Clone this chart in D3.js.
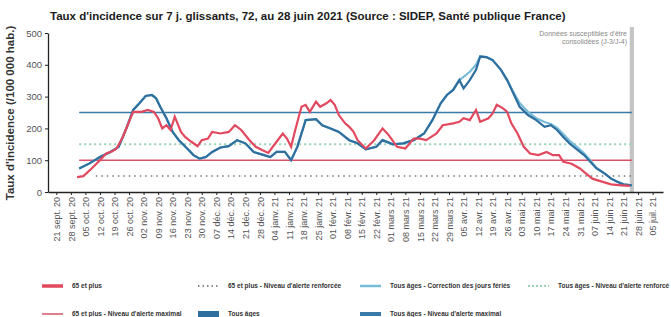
<!DOCTYPE html>
<meta charset="utf-8">
<body style="margin:0;background:#fff">
    <div id="chart"></div>
</body>
<script src="https://cdn.jsdelivr.net/npm/d3@7"></script>
<script>

    // séries (taux pour 100 000 hab.)
    var tousDates = ["2020-10-02","2020-10-07","2020-10-12","2020-10-17","2020-10-21","2020-10-23","2020-10-25","2020-10-28","2020-10-31",
        "2020-11-03","2020-11-06","2020-11-08","2020-11-10","2020-11-13","2020-11-16","2020-11-19","2020-11-23","2020-11-26","2020-11-29",
        "2020-12-02","2020-12-05","2020-12-09","2020-12-13","2020-12-17","2020-12-21","2020-12-25","2020-12-30",
        "2021-01-02","2021-01-05","2021-01-09","2021-01-12","2021-01-15","2021-01-18","2021-01-19","2021-01-24","2021-01-27","2021-01-31",
        "2021-02-04","2021-02-09","2021-02-13","2021-02-17","2021-02-22","2021-02-25",
        "2021-03-02","2021-03-07","2021-03-12","2021-03-17","2021-03-21","2021-03-25","2021-03-28","2021-03-31",
        "2021-04-03","2021-04-05","2021-04-08","2021-04-11","2021-04-13","2021-04-16","2021-04-19","2021-04-23","2021-04-26","2021-04-29",
        "2021-05-02","2021-05-06","2021-05-10","2021-05-14","2021-05-17","2021-05-20","2021-05-23","2021-05-26","2021-05-30",
        "2021-06-02","2021-06-05","2021-06-08","2021-06-12","2021-06-15","2021-06-18","2021-06-21","2021-06-25"];
    var tousAges = [74,90,110,126,142,173,205,258,279,
        302,305,295,268,232,189,163,137,116,105,
        110,126,140,144,163,153,126,116,
        110,126,126,100,142,205,226,229,210,200,
        189,163,153,134,142,163,
        150,153,163,184,226,279,305,321,
        352,326,352,384,426,424,415,384,352,310,
        268,242,226,205,210,195,173,153,132,
        116,95,74,58,42,32,24,21];
    var tousAgesCorrige = [74,90,110,126,142,173,205,258,279,
        302,305,295,268,232,189,163,137,116,105,
        110,126,140,144,163,153,126,116,
        110,126,126,100,142,205,226,229,210,200,
        189,163,153,134,142,163,
        150,153,163,184,226,279,305,321,
        352,362,378,400,426,424,415,384,352,314,
        280,252,232,220,214,202,182,162,140,
        122,100,76,58,42,32,24,21];

    var plus65Dates = ["2020-10-01","2020-10-04","2020-10-08","2020-10-12","2020-10-15","2020-10-18","2020-10-20","2020-10-23","2020-10-26","2020-10-28",
        "2020-11-01","2020-11-04","2020-11-07","2020-11-09","2020-11-11","2020-11-13","2020-11-15","2020-11-17","2020-11-20","2020-11-22","2020-11-25","2020-11-28","2020-11-30",
        "2020-12-03","2020-12-05","2020-12-09","2020-12-13","2020-12-16","2020-12-19","2020-12-23","2020-12-26","2020-12-29",
        "2021-01-01","2021-01-05","2021-01-08","2021-01-10","2021-01-12","2021-01-14","2021-01-17","2021-01-19","2021-01-21","2021-01-24","2021-01-26","2021-01-29","2021-01-31",
        "2021-02-02","2021-02-04","2021-02-07","2021-02-09","2021-02-11","2021-02-13","2021-02-17","2021-02-21","2021-02-25","2021-02-28",
        "2021-03-04","2021-03-08","2021-03-12","2021-03-15","2021-03-18","2021-03-23","2021-03-26","2021-03-31",
        "2021-04-03","2021-04-05","2021-04-08","2021-04-11","2021-04-13","2021-04-17","2021-04-19","2021-04-21","2021-04-24","2021-04-26","2021-04-28",
        "2021-05-01","2021-05-04","2021-05-07","2021-05-11","2021-05-15","2021-05-18","2021-05-21","2021-05-23","2021-05-27","2021-05-31",
        "2021-06-03","2021-06-06","2021-06-11","2021-06-15","2021-06-20","2021-06-24"];
    var plus65 = [47,50,74,100,121,128,137,173,221,252,
        252,258,252,232,200,210,195,237,189,173,158,144,163,
        168,189,184,189,210,195,163,142,132,
        123,158,184,168,142,195,268,274,252,284,268,279,289,
        274,242,216,205,190,163,137,163,200,179,
        142,137,168,168,163,184,210,216,
        221,232,226,258,221,232,247,274,263,252,216,
        184,142,121,116,126,116,116,95,89,74,
        58,42,32,24,21,19];

    // niveaux d'alerte
    var alerteMaxTous = 250;
    var alerteRenfTous = 150;
    var alerteMax65 = 100;
    var alerteRenf65 = 50;

    var yTicks = [0, 100, 200, 300, 400, 500];
    var xTickLabels = ["21 sept. 20","28 sept. 20","05 oct. 20","12 oct. 20","19 oct. 20","26 oct. 20","02 nov. 20","09 nov. 20",
        "16 nov. 20","23 nov. 20","30 nov. 20","07 déc. 20","14 déc. 20","21 déc. 20","28 déc. 20","04 janv. 21","11 janv. 21",
        "18 janv. 21","25 janv. 21","01 févr. 21","08 févr. 21","15 févr. 21","22 févr. 21","01 mars 21","08 mars 21","15 mars 21",
        "22 mars 21","29 mars 21","05 avr. 21","12 avr. 21","19 avr. 21","26 avr. 21","03 mai 21","10 mai 21","17 mai 21",
        "24 mai 21","31 mai 21","07 juin 21","14 juin 21","21 juin 21","28 juin 21","05 juil. 21"];

    var legendLabels = ["65 et plus", "65 et plus - Niveau d'alerte renforcée", "Tous âges - Correction des jours fériés",
        "Tous âges - Niveau d'alerte renforcé", "65 et plus - Niveau d'alerte maximal", "Tous âges", "Tous âges - Niveau d'alerte maximal"];

    var titre = "Taux d'incidence sur 7 j. glissants, 72, au 28 juin 2021 (Source : SIDEP, Santé publique France)";

    var width = 671, height = 317;
    var parse = d3.timeParse("%Y-%m-%d");

    var svg = d3.select("#chart").append("svg")
        .attr("width", width)
        .attr("height", height)
        .style("font-family", "'Liberation Sans', Arial, sans-serif");

    var x = d3.scaleTime()
        .domain([new Date(2020, 8, 17), new Date(2021, 6, 10)])
        .range([48, 663]);
    var y = d3.scaleLinear().domain([0, 500]).range([192, 33]);

    var red = "#e2495f", blue = "#2f6f9f", lightBlue = "#79bcd8", green = "#9bd3b4";

    // titre
    svg.append("text")
        .attr("x", 50).attr("y", 20)
        .attr("font-size", 11.5).attr("font-weight", "bold")
        .attr("fill", "#1b1b1b")
        .text(titre);

    svg.append("text")
        .attr("transform", "translate(14,113) rotate(-90)")
        .attr("text-anchor", "middle")
        .attr("font-size", 11.5).attr("font-weight", "bold")
        .attr("fill", "#333")
        .text("Taux d'incidence (/100 000 hab.)");

    // zone de consolidation
    svg.append("rect")
        .attr("x", x(parse("2021-06-24")))
        .attr("y", 27)
        .attr("width", x(parse("2021-06-26")) - x(parse("2021-06-24")))
        .attr("height", 165)
        .attr("fill", "#c4c4c4");

    svg.append("text")
        .attr("x", 627).attr("y", 36)
        .attr("text-anchor", "end")
        .attr("font-size", 7).attr("fill", "#888")
        .selectAll("tspan")
        .data(["Données susceptibles d'être", "consolidées (J-3/J-4)"])
        .enter().append("tspan")
            .attr("x", 627)
            .attr("dy", function(d, i) { return i ? 8 : 0; })
            .text(function(d) { return d; });

    // axes
    var tickDates = d3.timeMonday.range(new Date(2020, 8, 21), new Date(2021, 6, 6));
    var xAxis = svg.append("g")
        .attr("transform", "translate(0,192)")
        .call(d3.axisBottom(x).tickValues(tickDates).tickSize(3).tickSizeOuter(0)
            .tickFormat(function(d, i) { return xTickLabels[i]; }));
    xAxis.selectAll("text")
        .attr("transform", "rotate(-90)")
        .attr("text-anchor", "end")
        .attr("x", -5).attr("y", 0).attr("dy", "0.35em")
        .attr("font-size", 9).attr("fill", "#555");
    xAxis.select(".domain").attr("stroke", "#222").attr("stroke-width", 1.3);
    xAxis.selectAll(".tick line").attr("stroke", "#222");

    var yAxis = svg.append("g")
        .attr("transform", "translate(48,0)")
        .call(d3.axisLeft(y).tickValues(yTicks).tickSize(3).tickSizeOuter(0));
    yAxis.selectAll("text").attr("font-size", 9.5).attr("fill", "#555").attr("x", -6);
    yAxis.select(".domain").attr("stroke", "#222").attr("stroke-width", 1.3);
    yAxis.selectAll(".tick line").attr("stroke", "#222");

    // niveaux d'alerte
    var debut = parse("2020-10-02"), fin = parse("2021-06-25");
    function niveau(v, d0, color, w, dash) {
        svg.append("line")
            .attr("x1", x(d0)).attr("x2", x(fin))
            .attr("y1", y(v)).attr("y2", y(v))
            .attr("stroke", color).attr("stroke-width", w)
            .attr("stroke-dasharray", dash);
    }
    niveau(alerteRenfTous, debut, green, 2, "2,3");
    niveau(alerteRenf65, parse("2020-10-10"), "#777", 1.5, "1.5,4");
    niveau(alerteMaxTous, debut, "#3a7aa8", 1.6, null);
    niveau(alerteMax65, debut, "#d9506a", 1.6, null);

    // courbes
    var line = d3.line()
        .x(function(d) { return x(d.date); })
        .y(function(d) { return y(d.value); });

    function serie(dates, values) {
        return dates.map(function(d, i) { return { date: parse(d), value: values[i] }; });
    }

    svg.append("path").datum(serie(tousDates, tousAgesCorrige))
        .attr("d", line).attr("fill", "none")
        .attr("stroke", lightBlue).attr("stroke-width", 2.2);
    svg.append("path").datum(serie(tousDates, tousAges))
        .attr("d", line).attr("fill", "none")
        .attr("stroke", blue).attr("stroke-width", 2.2);
    svg.append("path").datum(serie(plus65Dates, plus65))
        .attr("d", line).attr("fill", "none")
        .attr("stroke", red).attr("stroke-width", 2.2);

    // légende
    var legendStyles = [
        { color: red, w: 3.5, dash: null },
        { color: "#666", w: 1.5, dash: "1.5,3" },
        { color: lightBlue, w: 2.5, dash: null },
        { color: green, w: 2, dash: "2,2" },
        { color: "#e07f90", w: 2, dash: null },
        { color: blue, w: 6, dash: null },
        { color: "#3a7aa8", w: 4, dash: null }
    ];
    var legX = [42, 198, 360, 528], legY = [286, 314];
    var legend = svg.append("g").selectAll("g")
        .data(legendLabels)
        .enter().append("g")
            .attr("transform", function(d, i) {
                var row = i < 4 ? 0 : 1, col = i < 4 ? i : i - 4;
                return "translate(" + legX[col] + "," + legY[row] + ")";
            });
    legend.append("line")
        .attr("x1", 0).attr("x2", 21)
        .attr("stroke", function(d, i) { return legendStyles[i].color; })
        .attr("stroke-width", function(d, i) { return legendStyles[i].w; })
        .attr("stroke-dasharray", function(d, i) { return legendStyles[i].dash; });
    legend.append("text")
        .attr("x", 30).attr("dy", "0.35em")
        .attr("font-size", 6.5).attr("font-weight", "bold")
        .attr("fill", "#333")
        .text(function(d) { return d; });

</script>
